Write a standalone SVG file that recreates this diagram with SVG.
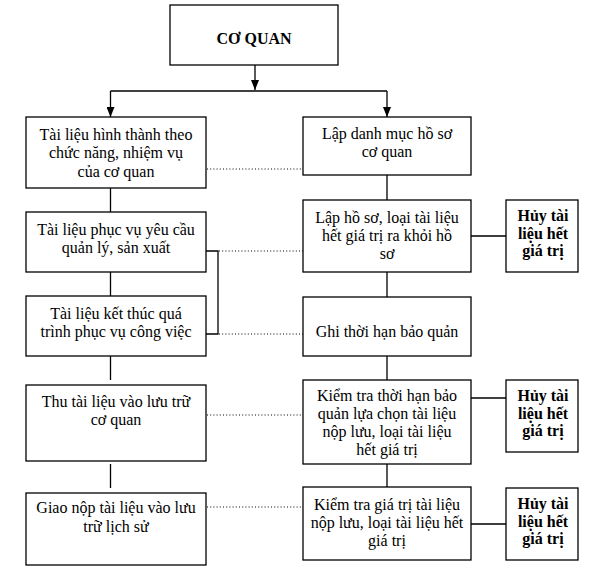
<svg xmlns="http://www.w3.org/2000/svg" width="596" height="572" viewBox="0 0 596 572">
<defs>
<style>
.box{fill:#fff;stroke:#000;stroke-width:1.3}
.t{font-family:"Liberation Serif","Times New Roman",serif;font-size:16px;fill:#000;text-anchor:middle}
.b{font-weight:bold}
.ln{fill:none;stroke:#000;stroke-width:1.3}
.dot{fill:none;stroke:#000;stroke-width:1;stroke-dasharray:1 2.2}
</style>
<marker id="arr" viewBox="0 0 10 8" refX="10" refY="4" markerWidth="10" markerHeight="8" markerUnits="userSpaceOnUse" orient="auto">
<path d="M0,0 L10,4 L0,8 z" fill="#000"/>
</marker>
</defs>
<rect width="596" height="572" fill="#fff"/>
<g id="connectors">
<path class="ln" d="M255,65 V90" marker-end="url(#arr)"/>
<path class="ln" d="M110.5,91 H387"/>
<path class="ln" d="M110.5,91 V117" marker-end="url(#arr)"/>
<path class="ln" d="M387,91 V117" marker-end="url(#arr)"/>
<path class="ln" d="M110.5,188 V212 M110.5,272 V296 M110.5,356 V380 M110.5,464 V488"/>
<path class="ln" d="M387,175 V200 M387,272 V297 M387,356 V380 M387,464 V487"/>
<path class="ln" d="M471,236 H506 M471,398 H506 M471,524 H506"/>
<path class="ln" d="M206,251 H218 V334 H206"/>
<path class="dot" d="M207,169 H303 M219,251 H303 M219,334 H303 M207,415 H303 M207,507 H303"/>
</g>
<g id="co-quan"><rect class="box" x="170" y="5" width="168" height="60"/><text class="t b" x="254" y="43.5">CƠ QUAN</text></g>
<g id="l1"><rect class="box" x="26" y="117" width="180" height="71"/><text class="t" x="116" y="139.5">Tài liệu hình thành theo</text><text class="t" x="116" y="158">chức năng, nhiệm vụ</text><text class="t" x="116" y="176.5">của cơ quan</text></g>
<g id="l2"><rect class="box" x="26" y="212" width="180" height="60"/><text class="t" x="116" y="235">Tài liệu phục vụ yêu cầu</text><text class="t" x="116" y="253">quản lý, sản xuất</text></g>
<g id="l3"><rect class="box" x="26" y="296" width="180" height="60"/><text class="t" x="116" y="318.5">Tài liệu kết thúc quá</text><text class="t" x="116" y="336.5">trình phục vụ công việc</text></g>
<g id="l4"><rect class="box" x="26" y="385" width="180" height="76"/><text class="t" x="116" y="406.5">Thu tài liệu vào lưu trữ</text><text class="t" x="116" y="425">cơ quan</text></g>
<g id="l5"><rect class="box" x="26" y="493" width="180" height="72"/><text class="t" x="116" y="513">Giao nộp tài liệu vào lưu</text><text class="t" x="116" y="532">trữ lịch sử</text></g>
<g id="r1"><rect class="box" x="303" y="117" width="168" height="58"/><text class="t" x="387" y="138.5">Lập danh mục hồ sơ</text><text class="t" x="387" y="156.5">cơ quan</text></g>
<g id="r2"><rect class="box" x="303" y="200" width="168" height="72"/><text class="t" x="387" y="222.5">Lập hồ sơ, loại tài liệu</text><text class="t" x="387" y="240.5">hết giá trị ra khỏi hồ</text><text class="t" x="387" y="258.5">sơ</text></g>
<g id="r3"><rect class="box" x="303" y="297" width="168" height="59"/><text class="t" x="387" y="336.5">Ghi thời hạn bảo quản</text></g>
<g id="r4"><rect class="box" x="303" y="380" width="168" height="84"/><text class="t" x="387" y="401">Kiểm tra thời hạn bảo</text><text class="t" x="387" y="418.5">quản lựa chọn tài liệu</text><text class="t" x="387" y="436.5">nộp lưu, loại tài liệu</text><text class="t" x="387" y="455">hết giá trị</text></g>
<g id="r5"><rect class="box" x="303" y="487" width="168" height="73"/><text class="t" x="387" y="510">Kiểm tra giá trị tài liệu</text><text class="t" x="387" y="528">nộp lưu, loại tài liệu hết</text><text class="t" x="387" y="546">giá trị</text></g>
<g id="h1"><rect class="box" x="506" y="200" width="72" height="72"/><text class="t b" x="543" y="220.5">Hủy tài</text><text class="t b" x="543" y="238.5">liệu hết</text><text class="t b" x="543" y="256">giá trị</text></g>
<g id="h2"><rect class="box" x="506" y="380" width="72" height="72"/><text class="t b" x="543" y="400.5">Hủy tài</text><text class="t b" x="543" y="418.5">liệu hết</text><text class="t b" x="543" y="436">giá trị</text></g>
<g id="h3"><rect class="box" x="506" y="488" width="72" height="72"/><text class="t b" x="543" y="508.5">Hủy tài</text><text class="t b" x="543" y="526.5">liệu hết</text><text class="t b" x="543" y="544">giá trị</text></g>
</svg>
